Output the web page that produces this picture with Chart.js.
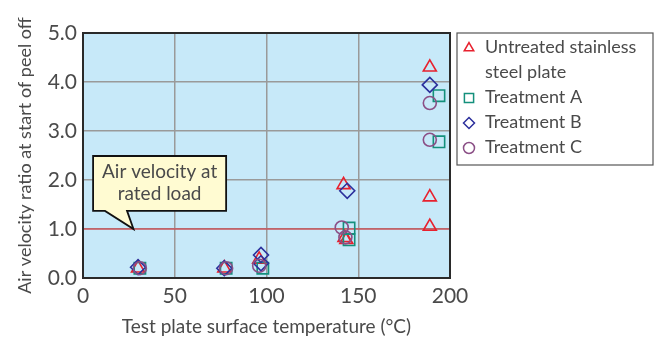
<!DOCTYPE html>
<html><head><meta charset="utf-8">
<script src="https://cdn.jsdelivr.net/npm/chart.js@4/dist/chart.umd.min.js"></script>
<style>html,body{margin:0;padding:0;background:#fff}#wrap{width:660px;height:342px;position:relative}</style>
</head><body><div id="wrap"><canvas id="c" width="660" height="342"></canvas></div>
<script>
const seriesNames = ["Untreated stainless\nsteel plate", "Treatment A", "Treatment B", "Treatment C"];
const untreatedX = [30, 77, 96, 142, 142.5, 143.5, 189, 189, 189];
const untreatedY = [0.2, 0.2, 0.38, 1.9, 0.82, 0.78, 4.3, 1.65, 1.05];
const treatAX = [31, 78, 98, 145, 145, 194, 194];
const treatAY = [0.2, 0.2, 0.2, 1.02, 0.78, 3.72, 2.78];
const treatBX = [30, 77, 97, 97, 144, 189];
const treatBY = [0.22, 0.2, 0.47, 0.3, 1.78, 3.94];
const treatCX = [31, 78, 96, 141, 143, 189, 189];
const treatCY = [0.2, 0.2, 0.25, 1.03, 0.83, 3.57, 2.82];
const xTicks = [0, 50, 100, 150, 200];
const yTicks = [0, 1, 2, 3, 4, 5];
const ratedLoad = 1.0;
const calloutText = ["Air velocity at", "rated load"];

const FONT = "Lato, 'Open Sans', sans-serif";
const TXT = "#4a4a4a";
const pts = (xs, ys) => xs.map((x, i) => ({x, y: ys[i]}));
const styles = [
  {c: "#e8212e", s: "triangle", r: 7.5},
  {c: "#14907c", s: "rect", r: 8},
  {c: "#2b2f9c", s: "rectRot", r: 7.5},
  {c: "#8b4f86", s: "circle", r: 6.5}
];
const allData = [pts(untreatedX, untreatedY), pts(treatAX, treatAY), pts(treatBX, treatBY), pts(treatCX, treatCY)];
const datasets = allData.map((d, i) => ({
  label: seriesNames[i], data: d, showLine: false,
  pointStyle: styles[i].s, pointRadius: styles[i].r, pointHoverRadius: styles[i].r,
  borderColor: styles[i].c, backgroundColor: "rgba(0,0,0,0)", pointBorderWidth: 1.6
})).reverse();

const bgPlugin = {
  id: "bg",
  beforeDraw(chart) {
    const {ctx, chartArea: a} = chart;
    ctx.save(); ctx.fillStyle = "#c7e9f9";
    ctx.fillRect(a.left, a.top, a.right - a.left, a.bottom - a.top); ctx.restore();
  },
  beforeDatasetsDraw(chart) {
    const {ctx, chartArea: a, scales: {x, y}} = chart;
    ctx.save();
    const yy = y.getPixelForValue(ratedLoad);
    ctx.strokeStyle = "#e0303a"; ctx.lineWidth = 1.2;
    ctx.beginPath(); ctx.moveTo(a.left, yy); ctx.lineTo(a.right, yy); ctx.stroke();
    // callout
    const L = x.getPixelForValue(5.5), R = x.getPixelForValue(78);
    const T = y.getPixelForValue(2.49), B = y.getPixelForValue(1.37);
    const b1 = x.getPixelForValue(12), b2 = x.getPixelForValue(24);
    const tx = x.getPixelForValue(27.5), ty = yy;
    ctx.beginPath();
    ctx.moveTo(L, T); ctx.lineTo(R, T); ctx.lineTo(R, B); ctx.lineTo(b2, B);
    ctx.lineTo(tx, ty); ctx.lineTo(b1, B); ctx.lineTo(L, B); ctx.closePath();
    ctx.fillStyle = "#fffbd2"; ctx.fill();
    ctx.strokeStyle = "#111"; ctx.lineWidth = 1.8; ctx.lineJoin = "miter"; ctx.stroke();
    ctx.fillStyle = TXT; ctx.font = "19px " + FONT; ctx.textAlign = "center"; ctx.textBaseline = "middle";
    ctx.fillText(calloutText[0], (L + R) / 2, T + 16);
    ctx.fillText(calloutText[1], (L + R) / 2, T + 38);
    ctx.restore();
  },
  afterDraw(chart) {
    const {ctx, chartArea: a} = chart;
    ctx.save();
    ctx.strokeStyle = "#2a2a2a"; ctx.lineWidth = 2;
    ctx.strokeRect(a.left, a.top, a.right - a.left, a.bottom - a.top);
    // legend
    const lx = a.right + 7, ly = a.top, lw = 196, lh = 132;
    ctx.strokeStyle = "#555"; ctx.lineWidth = 1.2;
    ctx.strokeRect(lx, ly, lw, lh);
    ctx.font = "18px " + FONT; ctx.textBaseline = "middle"; ctx.textAlign = "left";
    let yPos = ly + 14;
    seriesNames.forEach((name, i) => {
      const lines = name.split("\n");
      ctx.strokeStyle = styles[i].c; ctx.lineWidth = 1.5; ctx.fillStyle = "rgba(0,0,0,0)";
      Chart.helpers.drawPoint(ctx, {pointStyle: styles[i].s, radius: styles[i].s === "rect" ? 6.5 : 5.5, rotation: 0, borderWidth: 1.5}, lx + 12, yPos + 1);
      ctx.fillStyle = TXT;
      lines.forEach((ln, k) => { ctx.fillText(ln, lx + 28, yPos); if (k < lines.length - 1) yPos += 25; });
      yPos += 25;
    });
    ctx.restore();
  }
};

new Chart(document.getElementById("c"), {
  type: "scatter",
  data: {datasets},
  options: {
    responsive: false, animation: false, devicePixelRatio: 1,
    layout: {padding: {top: 33, right: 210, left: 0, bottom: 0}},
    plugins: {legend: {display: false}, tooltip: {enabled: false}},
    scales: {
      x: {
        type: "linear", min: 0, max: 200,
        afterBuildTicks: s => { s.ticks = xTicks.map(v => ({value: v})); },
        afterFit: s => { s.height = 64; },
        grid: {color: "#9a9a9a", lineWidth: 1.5, drawTicks: false},
        border: {display: false},
        ticks: {color: TXT, font: {family: FONT, size: 21}, padding: 6, maxRotation: 0},
        title: {display: true, text: "Test plate surface temperature (°C)", color: TXT, font: {family: FONT, size: 19}, padding: {top: 0, bottom: 4}}
      },
      y: {
        type: "linear", min: 0, max: 5,
        afterBuildTicks: s => { s.ticks = yTicks.map(v => ({value: v})); },
        afterFit: s => { s.width = 83; },
        grid: {color: "#9a9a9a", lineWidth: 1.5, drawTicks: false},
        border: {display: false},
        ticks: {color: TXT, font: {family: FONT, size: 21}, padding: 6, callback: v => v.toFixed(1)},
        title: {display: true, text: "Air velocity ratio at start of peel off", color: TXT, font: {family: FONT, size: 18}, padding: {top: 14, bottom: 0}}
      }
    }
  },
  plugins: [bgPlugin]
});
</script></body></html>
